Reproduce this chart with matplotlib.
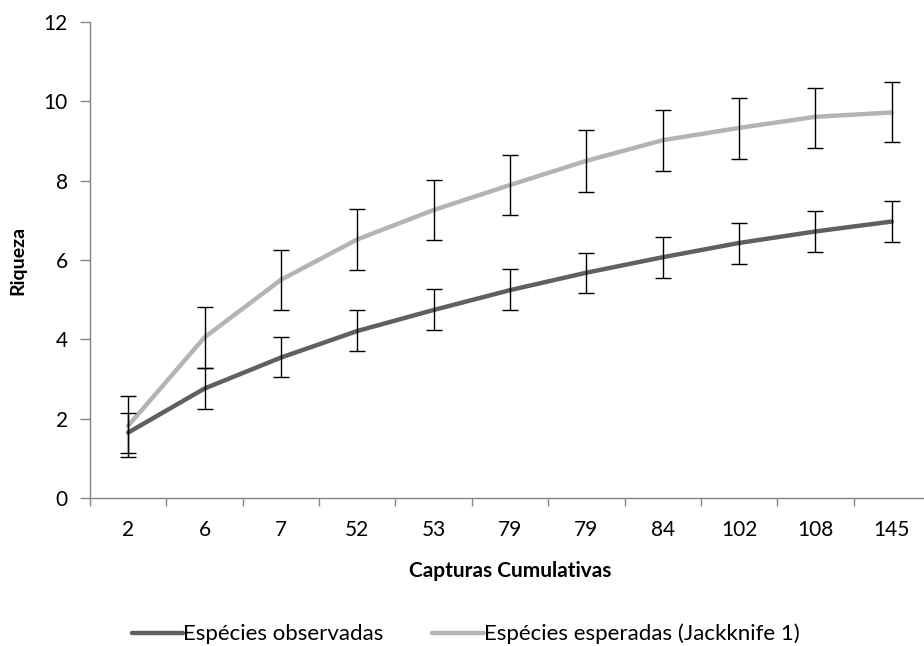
import numpy as np
import matplotlib
matplotlib.use("Agg")
import matplotlib.pyplot as plt

plt.rcParams["font.family"] = ["Lato", "DejaVu Sans"]

# ── Data ─────────────────────────────────────────────────────────────────────
capturas = ["2", "6", "7", "52", "53", "79", "79", "84", "102", "108", "145"]

obs_mean = [1.65, 2.76, 3.54, 4.21, 4.74, 5.24, 5.68, 6.07, 6.43, 6.72, 6.97]
obs_low = [1.13, 2.24, 3.04, 3.70, 4.23, 4.73, 5.16, 5.54, 5.90, 6.19, 6.46]
obs_high = [2.14, 3.28, 4.07, 4.73, 5.26, 5.78, 6.18, 6.58, 6.93, 7.23, 7.50]

jack_mean = [1.82, 4.05, 5.50, 6.52, 7.26, 7.89, 8.50, 9.02, 9.33, 9.61, 9.72]
jack_low = [1.04, 3.28, 4.74, 5.75, 6.50, 7.14, 7.72, 8.25, 8.55, 8.82, 8.97]
jack_high = [2.58, 4.82, 6.25, 7.29, 8.01, 8.65, 9.28, 9.77, 10.08, 10.34, 10.49]

DARK = "#606060"
LIGHT = "#b4b4b4"

fig = plt.figure(figsize=(9.24, 6.46), dpi=100)
# axes runs a little past the right edge, like the cropped original
ax = fig.add_axes([90 / 924, 1 - 498 / 646, 840 / 924, 476 / 646])

x = np.arange(len(capturas))


def plot_series(mean, low, high, color, label):
    mean = np.array(mean)
    yerr = [mean - np.array(low), np.array(high) - mean]
    ax.plot(x, mean, color=color, lw=3.2, label=label, solid_capstyle="round", zorder=2)
    ax.errorbar(x, mean, yerr=yerr, fmt="none", ecolor="black", elinewidth=1.0,
                capsize=6, capthick=1.0, zorder=3)


plot_series(obs_mean, obs_low, obs_high, DARK, "Espécies observadas")
plot_series(jack_mean, jack_low, jack_high, LIGHT, "Espécies esperadas (Jackknife 1)")

ax.set_xlim(-0.5, len(capturas) - 0.5)
ax.set_ylim(0, 12)
ax.set_yticks(range(0, 13, 2))
ax.set_xticks(x)
ax.set_xticklabels(capturas)
ax.set_xticks(np.arange(len(capturas) + 1) - 0.5, minor=True)
ax.tick_params(axis="x", which="major", length=0, labelsize=15, pad=16)
ax.tick_params(axis="x", which="minor", length=6, color="#868686", width=1)
ax.tick_params(axis="y", length=7, color="#868686", width=1, labelsize=15, pad=9)

for side in ["top", "right"]:
    ax.spines[side].set_visible(False)
for side in ["left", "bottom"]:
    ax.spines[side].set_color("#868686")
    ax.spines[side].set_linewidth(1)

ax.set_xlabel("Capturas Cumulativas", fontsize=15, fontweight="bold", labelpad=15)
ax.set_ylabel("Riqueza", fontsize=14, fontweight="bold", labelpad=12)

leg = fig.legend(loc="center", bbox_to_anchor=(0.504, 1 - 634 / 646), ncol=2,
                 frameon=False, fontsize=16, handlelength=2.3, handletextpad=0.0,
                 columnspacing=2.2)

fig.savefig("out.png", dpi=100)
